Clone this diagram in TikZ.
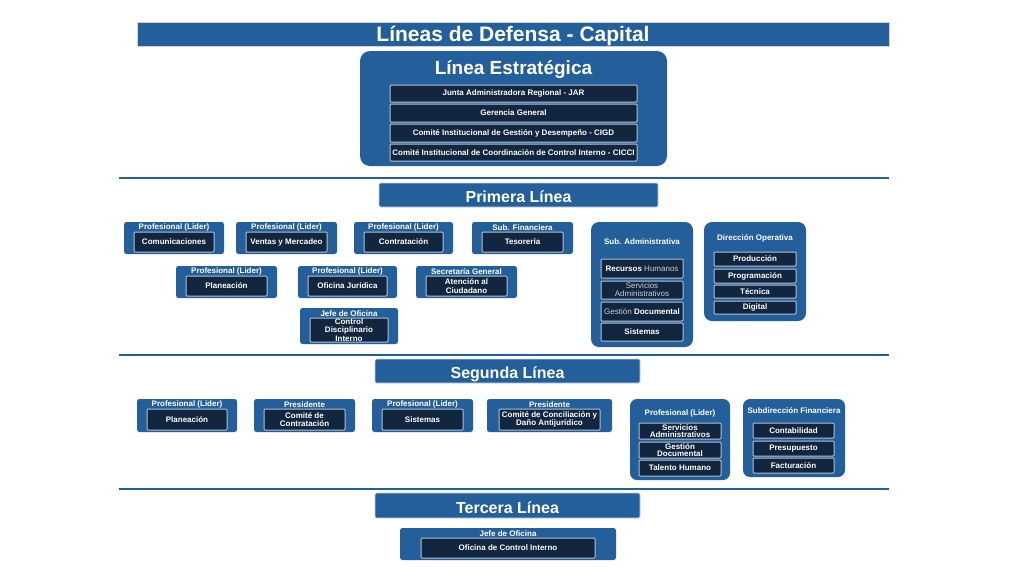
\documentclass[tikz,border=0pt]{standalone}
\usepackage{fontspec}
\setmainfont{Liberation Sans}
\definecolor{azul}{HTML}{235F9B}
\definecolor{marino}{HTML}{12263F}
\definecolor{borde}{HTML}{B4C2D0}
\definecolor{gris}{HTML}{C9CFD6}
\tikzset{
  card/.style={fill=azul, rounded corners=2.5pt, inner sep=0pt, outer sep=0pt},
  panel/.style={fill=azul, rounded corners=8pt, inner sep=0pt, outer sep=0pt},
  cell/.style={fill=marino, draw=borde, line width=1pt, rounded corners=1pt, text=white,
    font=\fontsize{8}{8.5}\selectfont\bfseries, align=center, inner sep=0pt},
  headtxt/.style={text=white, font=\fontsize{8}{8}\selectfont\bfseries, inner sep=0pt},
  band/.style={fill=azul, draw=borde!70, line width=0.6pt, rounded corners=1.5pt, text=white,
    font=\fontsize{16}{16}\selectfont\bfseries, inner sep=0pt, text height=15.5pt, text depth=0pt},
  sepline/.style={draw=azul, line width=2.5pt}
}
% caja: style, name, x1, y1, x2, y2, text
\newcommand{\caja}[7]{\node[#1, minimum width={((#5)-(#3))*1pt}, minimum height={((#6)-(#4))*1pt}] (#2) at ({((#3)+(#5))/2},{((#4)+(#6))/2}) {#7};}
% cargo: name, x1, y1, x2, y2, inset, header, text
\newcommand{\cargo}[8]{%
  \caja{card}{#1-box}{#2}{#3}{#4}{#5}{}
  \node[headtxt] (#1-head) at ({((#2)+(#4))/2},{(#3)+5.5}) {#7};
  \caja{cell}{#1}{(#2)+(#6)}{(#3)+10}{(#4)-(#6)}{(#5)-2}{#8}}

\begin{document}
\begin{tikzpicture}[x=1pt,y=-1pt]
\useasboundingbox[fill=white] (0,0) rectangle (1024,576);

\caja{band, rounded corners=0pt, font=\fontsize{21}{21}\selectfont\bfseries, text height=15pt}{titulo}{137}{22}{889}{46}{Líneas de Defensa - Capital}

\caja{panel, rounded corners=10pt}{estr}{360}{51}{667}{166}{}
\node[text=white, font=\fontsize{19}{19}\selectfont\bfseries, inner sep=0pt, text height=13.6pt, text depth=0pt] (estr-t) at (513.5,67.5) {Línea Estratégica};
\caja{cell}{jar}{390}{85}{637}{102}{Junta Administradora Regional - JAR}
\caja{cell}{ger}{390}{104}{637}{122}{Gerencia General}
\caja{cell}{cigd}{390}{124}{637}{142}{Comité Institucional de Gestión y Desempeño - CIGD}
\caja{cell}{cicci}{390}{144}{637}{161}{Comité Institucional de Coordinación de Control Interno - CICCI}

\foreach \n/\y in {1/178,2/355,3/489}{
  \coordinate (s\n a) at (119,\y);
  \coordinate (s\n b) at (889,\y);
  \draw[sepline] (s\n a) -- (s\n b);
}

\caja{band}{prim}{379}{183}{658}{207}{Primera Línea}
\cargo{com}{124}{222}{224}{254}{10}{Profesional (Lider)}{Comunicaciones}
\cargo{ven}{236}{222}{337}{254}{10}{Profesional (Lider)}{Ventas y Mercadeo}
\cargo{con}{354}{222}{453}{254}{10}{Profesional (Lider)}{Contratación}
\cargo{tes}{472}{222}{573}{254}{10}{Sub. Financiera}{Tesorería}
\cargo{pla}{176}{266}{277}{298}{10}{Profesional (Lider)}{Planeación}
\cargo{jur}{298}{266}{397}{298}{10}{Profesional (Lider)}{Oficina Jurídica}
\cargo{ate}{416}{266}{517}{298}{10}{Secretaría General}{Atención al\\Ciudadano}
\cargo{cdi}{300}{308}{398}{344}{10}{Jefe de Oficina}{Control\\Disciplinario\\Interno}

\caja{panel}{sadm}{591}{222}{693}{347}{}
\node[headtxt] (sadm-t) at (642,242) {Sub. Administrativa};
\caja{cell}{rh}{601}{259}{683}{278}{Recursos {\mdseries\color{gris}Humanos}}
\caja{cell, text=gris, font=\fontsize{8}{8}\selectfont}{sadm2}{601}{281}{683}{299}{Servicios\\Administrativos}
\caja{cell}{gdoc}{601}{302}{683}{321}{{\mdseries\color{gris}Gestión} Documental}
\caja{cell}{sist}{601}{323}{683}{341}{Sistemas}

\caja{panel}{dop}{704}{222}{806}{321}{}
\node[headtxt] (dop-t) at (755,238) {Dirección Operativa};
\caja{cell}{prod}{714}{252}{796}{266}{Producción}
\caja{cell}{prog}{714}{269}{796}{283}{Programación}
\caja{cell}{tec}{714}{285}{796}{298}{Técnica}
\caja{cell}{dig}{714}{301}{796}{314}{Digital}

\caja{band}{seg}{375}{359}{640}{383}{Segunda Línea}
\cargo{pla2}{137}{399}{237}{432}{10}{Profesional (Lider)}{Planeación}
\cargo{cco}{254}{399}{355}{432}{10}{Presidente}{Comité de\\Contratación}
\cargo{sis2}{372}{399}{473}{432}{10}{Profesional (Lider)}{Sistemas}
\cargo{ccd}{487}{399}{612}{432}{12}{Presidente}{Comité de Conciliación y\\Daño Antijurídico}

\caja{panel, rounded corners=7pt}{plid}{630}{399}{730}{480}{}
\node[headtxt] (plid-t) at (680,413) {Profesional (Lider)};
\caja{cell, font=\fontsize{8}{7.5}\selectfont\bfseries}{sadm3}{639}{423}{721}{439}{Servicios\\Administrativos}
\caja{cell, font=\fontsize{8}{7.5}\selectfont\bfseries}{gdoc2}{639}{442}{721}{458}{Gestión\\Documental}
\caja{cell}{tal}{639}{460}{721}{476}{Talento Humano}

\caja{panel, rounded corners=7pt}{sfin}{743}{399}{845}{477}{}
\node[headtxt] (sfin-t) at (794,411) {Subdirección Financiera};
\caja{cell}{cont}{753}{423}{834}{438}{Contabilidad}
\caja{cell}{pres}{753}{441}{834}{456}{Presupuesto}
\caja{cell}{fact}{753}{458}{834}{473}{Facturación}

\caja{band}{ter}{375}{493}{640}{518}{Tercera Línea}
\cargo{oci}{400}{528}{616}{560}{21}{Jefe de Oficina}{Oficina de Control Interno}
\end{tikzpicture}
\end{document}
